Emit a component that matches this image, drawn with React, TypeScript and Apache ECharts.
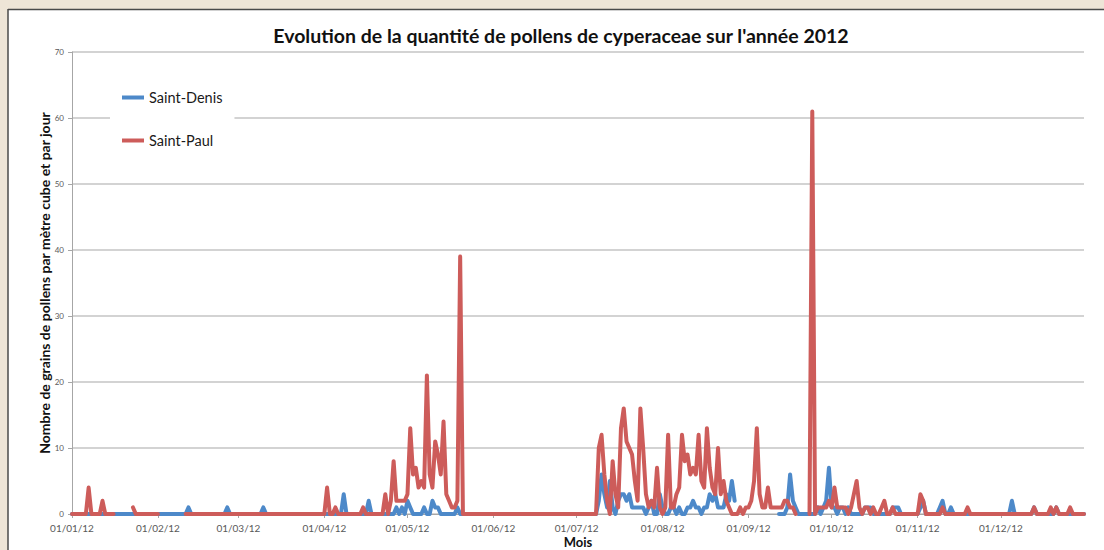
import React, { useEffect, useRef } from "react";
import * as echarts from "echarts";

const titleText = "Evolution de la quantité de pollens de cyperaceae sur l'année 2012";
const yAxisTitle = "Nombre de grains de pollens par mètre cube et par jour";
const xAxisTitle = "Mois";
const seriesNames = ["Saint-Denis", "Saint-Paul"];
const yMin = 0;
const yMax = 70;
const yStep = 10;

// Daily categories for 2012, labelled dd/mm/yy
const dayLabels: string[] = [];
for (let d = new Date(Date.UTC(2012, 0, 1)); d.getUTCFullYear() === 2012; d.setUTCDate(d.getUTCDate() + 1)) {
  const dd = String(d.getUTCDate()).padStart(2, "0");
  const mm = String(d.getUTCMonth() + 1).padStart(2, "0");
  dayLabels.push(`${dd}/${mm}/12`);
}

// Readings: [day of year (0 = 01/01/12), grains per m3]; unlisted days are 0
const saintDenisReadings: [number, number][] = [
  [42, 1], [56, 1], [69, 1], [98, 3], [107, 2], [117, 1], [119, 1], [121, 2], [122, 1], [127, 1],
  [130, 2], [131, 1], [132, 1], [139, 1],
  [190, 2], [191, 6], [192, 3], [193, 1], [194, 5], [195, 1], [197, 2], [198, 3], [199, 3], [200, 2],
  [201, 3], [202, 1], [203, 1], [204, 1], [205, 1], [206, 1], [208, 1], [209, 2], [212, 3], [213, 1],
  [216, 1], [217, 1], [219, 1], [222, 1], [223, 1], [224, 2], [225, 1], [226, 1], [228, 1], [229, 1],
  [230, 3], [231, 2], [232, 3], [233, 1], [234, 1], [235, 1], [236, 3], [237, 2], [238, 5], [239, 2],
  [258, 1], [259, 6], [260, 2], [261, 1], [269, 1], [271, 1], [272, 2], [273, 7], [274, 1], [275, 1],
  [277, 1], [278, 1], [280, 1], [286, 1], [287, 1], [288, 1], [296, 1], [297, 1], [298, 1], [306, 1],
  [307, 2], [313, 1], [314, 2], [317, 1], [339, 2], [347, 1], [355, 1],
];
const saintDenisMissing: [number, number][] = [[240, 254]];

const saintPaulReadings: [number, number][] = [
  [6, 4], [11, 2], [22, 1], [92, 4], [95, 1], [105, 1], [113, 3], [115, 2], [116, 8], [117, 2],
  [118, 2], [119, 2], [120, 2], [121, 3], [122, 13], [123, 6], [124, 7], [125, 4], [126, 5], [127, 4],
  [128, 21], [129, 6], [130, 4], [131, 11], [132, 9], [133, 6], [134, 14], [135, 3], [136, 2], [137, 1],
  [138, 1], [139, 2], [140, 39],
  [190, 10], [191, 12], [192, 6], [193, 2], [195, 8], [196, 3], [197, 1], [198, 13], [199, 16], [200, 11],
  [201, 10], [202, 9], [203, 5], [204, 2], [205, 16], [206, 10], [207, 3], [208, 1], [209, 2], [210, 1],
  [211, 7], [212, 1], [214, 1], [215, 12], [216, 1], [217, 1], [218, 3], [219, 4], [220, 12], [221, 8],
  [222, 9], [223, 6], [224, 7], [225, 6], [226, 12], [227, 5], [228, 4], [229, 13], [230, 7], [231, 4],
  [232, 3], [233, 10], [234, 3], [235, 5], [236, 2], [237, 1], [241, 1], [243, 1], [244, 1], [245, 2],
  [246, 5], [247, 13], [248, 3], [249, 1], [250, 1], [251, 4], [252, 1], [253, 1], [254, 1], [255, 1],
  [256, 1], [257, 2], [258, 2], [259, 1], [260, 1],
  [267, 61], [269, 1], [270, 1], [271, 1], [272, 1], [273, 2], [274, 1], [275, 4], [276, 1], [277, 1],
  [278, 1], [279, 1], [281, 1], [282, 3], [283, 5], [284, 1], [286, 1], [287, 1], [289, 1], [292, 1],
  [293, 2], [296, 1], [306, 3], [307, 2], [314, 1], [323, 1], [347, 1], [353, 1], [355, 1], [360, 1],
];
const saintPaulMissing: [number, number][] = [[16, 21], [32, 40], [262, 265]];

function buildDaily(readings: [number, number][], missing: [number, number][]) {
  const out: (number | null)[] = dayLabels.map(() => 0);
  missing.forEach(([a, b]) => {
    for (let i = a; i <= b; i++) out[i] = null;
  });
  readings.forEach(([i, v]) => {
    out[i] = v;
  });
  return out;
}

const colors = ["#4d89c9", "#cd5c5a"];
const FONT = "Lato, 'Liberation Sans', sans-serif";

export default function App() {
  const ref = useRef<HTMLDivElement>(null);
  useEffect(() => {
    if (!ref.current) return;
    const chart = echarts.init(ref.current, undefined, { renderer: "svg", width: 1104, height: 550 });
    const isMonthStart = (_i: number, v: string) => v.startsWith("01/");
    chart.setOption({
      animation: false,
      backgroundColor: "#eee5d7",
      textStyle: { fontFamily: FONT },
      graphic: [
        { type: "rect", z: -100, shape: { x: 8, y: 9, width: 1100, height: 545 }, style: { fill: "#ffffff" } },
        { type: "line", z: -99, shape: { x1: 8, y1: 9.5, x2: 1104, y2: 9.5 }, style: { stroke: "#4a4a4a", lineWidth: 1.5 } },
        { type: "line", z: -99, shape: { x1: 8, y1: 9, x2: 8, y2: 550 }, style: { stroke: "#4a4a4a", lineWidth: 1.5 } },
        {
          type: "text",
          z: 10,
          x: 561,
          y: 35,
          style: {
            text: titleText,
            fontSize: 19.5,
            fontWeight: "bold",
            fontFamily: FONT,
            fill: "#111",
            align: "center",
            verticalAlign: "middle",
          },
        },
      ],
      grid: { left: 72, right: 20, top: 52, bottom: 36, containLabel: false, outerBoundsMode: "none" },
      legend: {
        data: seriesNames,
        orient: "vertical",
        left: 110,
        top: 70,
        padding: [20, 12, 20, 12],
        itemGap: 28,
        itemWidth: 22,
        itemHeight: 4,
        icon: "rect",
        backgroundColor: "#ffffff",
        textStyle: { fontSize: 14.5, color: "#1a1a1a", fontFamily: FONT },
      },
      xAxis: {
        type: "category",
        data: dayLabels,
        boundaryGap: false,
        name: xAxisTitle,
        nameLocation: "middle",
        nameGap: 21,
        nameMoveOverlap: false,
        nameTextStyle: { fontSize: 13, fontWeight: "bold", color: "#111", fontFamily: FONT },
        axisLine: { lineStyle: { color: "#a6a6a6", width: 1 } },
        axisTick: { interval: isMonthStart, length: 4, lineStyle: { color: "#a6a6a6" } },
        axisLabel: { interval: isMonthStart, fontSize: 10, color: "#595959", margin: 9, fontFamily: FONT },
        splitLine: { show: false },
      },
      yAxis: {
        type: "value",
        min: yMin,
        max: yMax,
        interval: yStep,
        name: yAxisTitle,
        nameLocation: "middle",
        nameGap: 21,
        nameMoveOverlap: false,
        nameTextStyle: { fontSize: 14, fontWeight: "bold", color: "#111", fontFamily: FONT },
        axisLine: { show: true, lineStyle: { color: "#a6a6a6", width: 1 } },
        axisTick: { show: true, length: 4, lineStyle: { color: "#a6a6a6" } },
        axisLabel: { fontSize: 8, color: "#595959", margin: 8, fontFamily: FONT },
        splitLine: { lineStyle: { color: "#c4c4c4", width: 1.5 } },
      },
      series: [
        {
          name: seriesNames[0],
          type: "line",
          data: buildDaily(saintDenisReadings, saintDenisMissing),
          showSymbol: false,
          connectNulls: false,
          color: colors[0],
          lineStyle: { width: 4, color: colors[0], join: "round", cap: "round" },
          z: 2,
        },
        {
          name: seriesNames[1],
          type: "line",
          data: buildDaily(saintPaulReadings, saintPaulMissing),
          showSymbol: false,
          connectNulls: false,
          color: colors[1],
          lineStyle: { width: 4, color: colors[1], join: "round", cap: "round" },
          z: 3,
        },
      ],
    });
    return () => chart.dispose();
  }, []);
  return (
    <div style={{ position: "fixed", left: 0, top: 0, width: 1104, height: 550 }}>
      <div ref={ref} style={{ width: 1104, height: 550 }} />
    </div>
  );
}
